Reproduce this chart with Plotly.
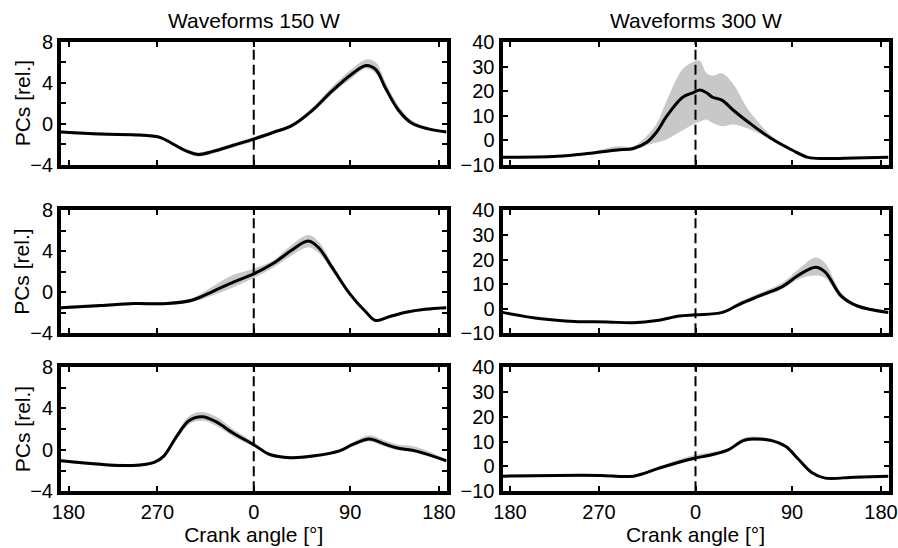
import plotly.graph_objects as go
from plotly.subplots import make_subplots

# ---------------- data ----------------
# Panel: 150 W, PC1
a_x = [-180, -143, -106, -87, -75, -62, -52, -38, -19, 0, 18, 36, 55, 73, 92, 105, 114, 123, 135, 147, 163, 180]
a_mean = [-0.8, -1.0, -1.1, -1.35, -2.0, -2.7, -3.0, -2.7, -2.1, -1.5, -0.85, -0.15, 1.35, 3.2, 4.9, 5.7, 5.3, 3.5, 1.35, 0.1, -0.5, -0.8]
a_up = [-0.65, -0.85, -0.95, -1.2, -1.85, -2.5, -2.8, -2.5, -1.9, -1.3, -0.7, 0.05, 1.6, 3.6, 5.4, 6.3, 6.0, 4.1, 1.8, 0.4, -0.35, -0.65]
a_lo = [-0.95, -1.15, -1.25, -1.5, -2.15, -2.9, -3.2, -2.9, -2.3, -1.7, -1.0, -0.3, 1.1, 2.9, 4.5, 5.4, 4.9, 3.2, 1.1, -0.1, -0.65, -0.95]

# Panel: 150 W, PC2
b_x = [-180, -143, -112, -81, -57, -38, -19, 0, 18, 34, 51, 61, 73, 89, 105, 114, 126, 142, 160, 180]
b_mean = [-1.5, -1.3, -1.1, -1.1, -0.75, 0.1, 1.0, 1.8, 2.8, 4.0, 5.0, 4.3, 2.45, -0.05, -1.95, -2.75, -2.4, -1.95, -1.65, -1.5]
b_up = [-1.35, -1.15, -0.95, -0.95, -0.55, 0.6, 1.7, 2.3, 3.1, 4.5, 5.6, 4.9, 2.8, 0.15, -1.8, -2.6, -2.25, -1.8, -1.5, -1.35]
b_lo = [-1.65, -1.45, -1.25, -1.25, -0.95, -0.3, 0.5, 1.4, 2.4, 3.5, 4.4, 3.8, 2.1, -0.25, -2.1, -2.9, -2.55, -2.1, -1.8, -1.65]

# Panel: 150 W, PC3
c_x = [-180, -143, -112, -93, -84, -72, -60, -48, -35, -19, 0, 15, 34, 55, 80, 92, 108, 120, 133, 151, 180]
c_mean = [-1.06, -1.4, -1.5, -1.2, -0.6, 1.3, 2.85, 3.2, 2.7, 1.6, 0.5, -0.45, -0.75, -0.6, -0.1, 0.5, 1.05, 0.65, 0.2, -0.1, -1.06]
c_up = [-0.9, -1.25, -1.35, -1.05, -0.4, 1.6, 3.3, 3.65, 3.2, 2.0, 0.75, -0.3, -0.6, -0.45, 0.05, 0.7, 1.4, 1.0, 0.55, 0.3, -0.9]
c_lo = [-1.2, -1.55, -1.65, -1.35, -0.8, 1.0, 2.5, 2.8, 2.3, 1.3, 0.3, -0.6, -0.9, -0.75, -0.25, 0.3, 0.8, 0.4, 0.0, -0.3, -1.2]

# Panel: 300 W, PC1
d_x = [-180, -129, -98, -73, -58, -45, -36, -27, -12, -2, 4, 10, 16, 25, 35, 50, 71, 90, 105, 120, 148, 180]
d_mean = [-7.0, -6.6, -5.3, -4.0, -3.4, -0.75, 3.5, 9.7, 17.5, 19.4, 20.4, 19.4, 17.5, 16.2, 12.3, 7.1, 0.55, -4.0, -7.0, -7.5, -7.3, -7.0]
d_up = [-6.8, -6.2, -4.8, -2.5, -2.5, 2.0, 7.0, 16.0, 29.0, 32.0, 32.4, 27.5, 26.3, 27.2, 23.0, 12.0, 1.8, -3.5, -6.6, -7.1, -6.9, -6.8]
d_lo = [-7.2, -7.0, -5.8, -4.5, -4.2, -2.0, -1.0, 0.3, 4.0, 6.5, 7.5, 8.4, 7.0, 5.7, 6.4, 4.5, 0.0, -4.5, -7.4, -7.9, -7.7, -7.2]

# Panel: 300 W, PC2
e_x = [-180, -144, -113, -82, -58, -36, -15, 0, 25, 41, 59, 81, 96, 112, 121, 136, 151, 180]
e_mean = [-1.5, -4.1, -5.2, -5.4, -5.7, -4.8, -3.0, -2.5, -1.5, 1.8, 5.1, 9.0, 13.6, 16.9, 14.9, 5.1, 1.1, -1.5]
e_up = [-1.2, -3.8, -4.9, -5.1, -5.4, -4.5, -2.7, -2.2, -1.2, 2.8, 6.2, 10.5, 16.0, 20.8, 18.5, 6.5, 1.8, -1.2]
e_lo = [-1.8, -4.4, -5.5, -5.7, -6.0, -5.1, -3.3, -2.8, -1.8, 1.2, 4.3, 8.0, 12.0, 13.5, 12.5, 4.0, 0.6, -1.8]

# Panel: 300 W, PC3
f_x = [-180, -129, -89, -58, -36, -21, -2, 16, 31, 44, 53, 71, 84, 96, 108, 121, 148, 180]
f_mean = [-3.9, -3.6, -3.6, -3.9, -1.0, 1.0, 3.2, 4.8, 6.8, 10.3, 11.0, 10.4, 8.1, 2.9, -2.3, -4.7, -4.3, -3.9]
f_up = [-3.4, -3.1, -3.1, -3.4, -0.4, 2.0, 4.5, 5.8, 7.4, 11.2, 12.0, 11.2, 8.7, 3.4, -1.8, -4.2, -3.8, -3.4]
f_lo = [-4.4, -4.1, -4.1, -4.4, -1.5, 0.4, 2.6, 4.2, 6.2, 9.6, 10.3, 9.8, 7.5, 2.4, -2.8, -5.2, -4.8, -4.4]

x_tickvals = [-173, -90, 0, 90, 173]
x_ticktext = ["180", "270", "0", "90", "180"]
left_tickvals = [-4, -2, 0, 2, 4, 6, 8]
left_ticktext = ["\u22124", "", "0", "", "4", "", "8"]
right_tickvals = [-10, 0, 10, 20, 30, 40]
right_ticktext = ["\u221210", "0", "10", "20", "30", "40"]
titles = ["Waveforms 150 W", "Waveforms 300 W"]
y_title = "PCs [rel.]"
x_title = "Crank angle [°]"

panels = [
    (1, 1, a_x, a_mean, a_up, a_lo),
    (1, 2, d_x, d_mean, d_up, d_lo),
    (2, 1, b_x, b_mean, b_up, b_lo),
    (2, 2, e_x, e_mean, e_up, e_lo),
    (3, 1, c_x, c_mean, c_up, c_lo),
    (3, 2, f_x, f_mean, f_up, f_lo),
]

FONT = "Liberation Sans, Arial, sans-serif"
BAND = "rgb(200,200,200)"
W, H = 898, 548

fig = make_subplots(rows=3, cols=2)

for r, c, xs, m, up, lo in panels:
    fig.add_trace(go.Scatter(x=xs, y=lo, mode="lines", line=dict(width=0, color=BAND, shape="spline"),
                             showlegend=False, hoverinfo="skip"), row=r, col=c)
    fig.add_trace(go.Scatter(x=xs, y=up, mode="lines", line=dict(width=0, color=BAND, shape="spline"),
                             fill="tonexty", fillcolor=BAND, showlegend=False, hoverinfo="skip"), row=r, col=c)
    fig.add_trace(go.Scatter(x=xs, y=m, mode="lines", line=dict(width=3, color="black", shape="spline"),
                             showlegend=False), row=r, col=c)

col_px = {1: (61, 446.5), 2: (502.5, 888.5)}
row_px = {1: (42, 164.7), 2: (210.3, 333.3), 3: (367, 491.3)}
col_x = {c: [a / W, b / W] for c, (a, b) in col_px.items()}
row_y = {r: [1 - b / H, 1 - a / H] for r, (a, b) in row_px.items()}

axis_common = dict(showline=True, linewidth=4, linecolor="black", mirror="ticks",
                   ticks="inside", ticklen=5, tickwidth=1.5, tickcolor="black",
                   showgrid=False, zeroline=False, automargin=False,
                   tickfont=dict(family=FONT, size=20, color="black"))

for r in (1, 2, 3):
    for c in (1, 2):
        fig.update_xaxes(row=r, col=c, domain=col_x[c], range=[-180, 180],
                         tickvals=x_tickvals, ticktext=x_ticktext,
                         showticklabels=(r == 3), ticklabeloverflow="allow",
                         title=dict(text=x_title if r == 3 else "",
                                    font=dict(family=FONT, size=21, color="black"), standoff=2),
                         **axis_common)
        if c == 1:
            fig.update_yaxes(row=r, col=c, domain=row_y[r], range=[-4, 8],
                             tickvals=left_tickvals, ticktext=left_ticktext,
                             **axis_common)
            fig.add_annotation(text=y_title, x=22 / W, y=sum(row_y[r]) / 2, xref="paper", yref="paper",
                               showarrow=False, textangle=-90, xanchor="center", yanchor="middle",
                               font=dict(family=FONT, size=21, color="black"))
        else:
            fig.update_yaxes(row=r, col=c, domain=row_y[r], range=[-10, 40],
                             tickvals=right_tickvals, ticktext=right_ticktext,
                             **axis_common)
        n = (r - 1) * 2 + c
        sfx = "" if n == 1 else str(n)
        fig.add_shape(type="line", xref=f"x{sfx}", yref=f"y{sfx} domain",
                      x0=0, x1=0, y0=0, y1=1,
                      line=dict(color="black", width=2, dash="10px,5px"))

for i, t in enumerate(titles):
    fig.add_annotation(text=t, x=sum(col_x[i + 1]) / 2, y=1 - 20.5 / H, xref="paper", yref="paper",
                       showarrow=False, xanchor="center", yanchor="middle",
                       font=dict(family=FONT, size=21, color="black"))

fig.update_layout(width=W, height=H, margin=dict(l=0, r=0, t=0, b=0),
                  paper_bgcolor="white", plot_bgcolor="white",
                  font=dict(family=FONT, size=20, color="black"))

fig.write_html("out.html")
